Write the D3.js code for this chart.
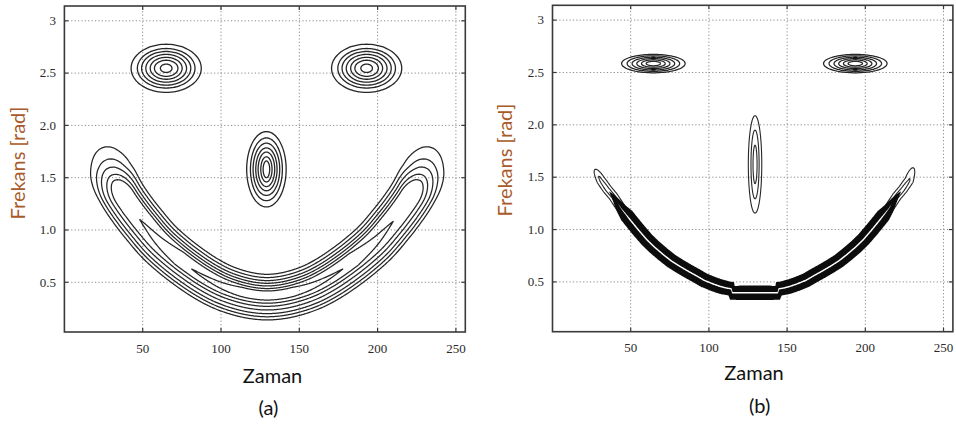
<!DOCTYPE html>
<html><head><meta charset="utf-8">
<script src="https://cdn.jsdelivr.net/npm/d3@7/dist/d3.min.js"></script>
<style>html,body{margin:0;padding:0;background:#fff;}svg{display:block;}</style>
</head><body>
<svg id="chart" width="956" height="425"></svg>
<script>
// ---------------- data ----------------
const xTickValues = [50, 100, 150, 200, 250];
const xTickLabels = ["50", "100", "150", "200", "250"];
const yTickValues = [0.5, 1.0, 1.5, 2.0, 2.5, 3];
const yTickLabels = ["0.5", "1.0", "1.5", "2.0", "2.5", "3"];
const timeDomain = [0, 256];
const freqDomain = [0.0245, 3.1416];
const panelNames = ["(a)", "(b)"];
const xTitle = "Zaman";
const yTitle = "Frekans [rad]";

// panel (a): contour rings
const eyeCentersA = [[65, 2.546], [193, 2.546]];
const eyeRingHalfTimeA = [22.4, 18.4, 15.7, 13.0, 10.2, 7.5, 3.7];
const eyeRingHalfFreqA = [0.230, 0.189, 0.161, 0.133, 0.105, 0.077, 0.040];
const noseCenterA = [129, 1.58];
const noseRingHalfTimeA = [12.6, 10.2, 8.5, 6.8, 5.3, 3.6, 2.1];
const noseRingHalfFreqA = [0.36, 0.30, 0.25, 0.205, 0.165, 0.12, 0.08];
const smileRidgeA = [[26,1.80],[27,1.72],[28.5,1.63],[30.5,1.53],[33.5,1.43],[38,1.31],[44,1.18],[50,1.065],[60,0.89],[70,0.755],[80,0.64],[90,0.54],[100,0.46],[110,0.405],[120,0.37],[129.5,0.358],[139,0.37],[149,0.405],[159,0.46],[169,0.54],[179,0.64],[189,0.755],[199,0.89],[209,1.065],[215,1.18],[221,1.31],[225.5,1.43],[228.5,1.53],[230.5,1.63],[232,1.72],[233,1.80]];
const smileLoopTopA = [0.218, 0.187, 0.158, 0.132, 0.107, 0.082, 0.059];
const smileLoopBottomA = [0.218, 0.188, 0.158, 0.123, 0.088, 0.058, 0.028];
const smileLoopStartA = [26, 27.6, 29, 30.5, 32, 48, 81];
const smileLoopEndA = [233, 231.4, 230, 228.5, 227, 210, 178];

// panel (b): contour rings
const eyeCentersB = [[64.5, 2.585], [193.6, 2.585]];
const eyeRingHalfTimeB = [20.3, 16.8, 13.6, 10.6, 7.6, 4.6];
const eyeRingHalfFreqB = [0.088, 0.074, 0.061, 0.048, 0.035, 0.021];
const noseCenterB = [129.5, 1.622];
const noseRingHalfTimeB = [4.3, 2.6, 1.3];
const noseRingHalfFreqB = [0.465, 0.328, 0.183];
const smileRidgeB = [[27.2,1.575],[31,1.47],[35,1.385],[38.9,1.316],[44,1.2],[49.6,1.094],[55,0.995],[60.2,0.905],[65,0.835],[70.9,0.76],[76,0.70],[81.5,0.648],[87,0.60],[92.2,0.557],[97,0.515],[102.8,0.48],[107,0.458],[111,0.442],[114.3,0.434],[115,0.396],[129.5,0.396],[144,0.396],[144.7,0.434],[148,0.442],[152,0.458],[156.2,0.48],[162,0.515],[166.8,0.557],[172,0.60],[177.5,0.648],[183,0.70],[188.1,0.76],[194,0.835],[198.8,0.905],[204,0.995],[209.4,1.094],[215,1.2],[220.1,1.316],[224,1.385],[228,1.47],[230.8,1.595]];
const smileBandHalfB = [0.069, 0.007];      // solid band, white centre line
const smileTipHalfB = [0.043, 0.018];       // outline rings at the tips
const smileTipStartB = [27.2, 29.5];
const smileTipEndB = [230.8, 228.5];
const smileBandStartB = 36, smileBandEndB = 223;

// ---------------- drawing ----------------
const svg = d3.select("#chart");
const INK = "#262626";

const panels = [
  { x0: 64.4, x1: 465.3, yb: 332, yt: 6, name: panelNames[0],
    title: {zx: 272.5, zy: 382.7, px: 268.5, py: 415, fx: 24.5, fy: 163} },
  { x0: 552.5, x1: 952.9, yb: 331.7, yt: 5.3, name: panelNames[1],
    title: {zx: 754, zy: 380, px: 759.7, py: 413, fx: 511.5, fy: 160} }
];

function makeScales(p) {
  return {
    xs: d3.scaleLinear().domain(timeDomain).range([p.x0, p.x1]),
    ys: d3.scaleLinear().domain(freqDomain).range([p.yb, p.yt])
  };
}

function drawGrid(g, xs, ys, p) {
  const gg = g.append("g").attr("stroke", "#8a8a8a").attr("stroke-width", 1)
    .attr("stroke-dasharray", "1.2,2.2").attr("fill", "none");
  xTickValues.forEach(v => gg.append("line").attr("x1", xs(v)).attr("x2", xs(v)).attr("y1", p.yb).attr("y2", p.yt));
  yTickValues.forEach(v => gg.append("line").attr("x1", p.x0).attr("x2", p.x1).attr("y1", ys(v)).attr("y2", ys(v)));
}

function drawFrame(g, xs, ys, p) {
  const fr = g.append("g").attr("stroke", "#3a3a3a").attr("fill", "none");
  fr.append("rect").attr("x", p.x0).attr("y", p.yt).attr("width", p.x1 - p.x0).attr("height", p.yb - p.yt)
    .attr("stroke-width", 1.6);
  xTickValues.forEach(v => {
    fr.append("line").attr("x1", xs(v)).attr("x2", xs(v)).attr("y1", p.yb).attr("y2", p.yb - 4).attr("stroke-width", 1.2);
    fr.append("line").attr("x1", xs(v)).attr("x2", xs(v)).attr("y1", p.yt).attr("y2", p.yt + 4).attr("stroke-width", 1.2);
  });
  yTickValues.forEach(v => {
    fr.append("line").attr("x1", p.x0).attr("x2", p.x0 + 4).attr("y1", ys(v)).attr("y2", ys(v)).attr("stroke-width", 1.2);
    fr.append("line").attr("x1", p.x1).attr("x2", p.x1 - 4).attr("y1", ys(v)).attr("y2", ys(v)).attr("stroke-width", 1.2);
  });
  const tl = g.append("g").attr("font-family", "'Liberation Serif','Times New Roman',serif")
    .attr("font-size", 13).attr("fill", "#2a2a2a");
  xTickValues.forEach((v, i) => tl.append("text").attr("x", xs(v)).attr("y", p.yb + 20.5)
    .attr("text-anchor", "middle").text(xTickLabels[i]));
  yTickValues.forEach((v, i) => tl.append("text").attr("x", p.x0 - 8.5).attr("y", ys(v) + 4.3)
    .attr("text-anchor", "end").text(yTickLabels[i]));
  const tt = g.append("g").attr("font-family", "Lato, Carlito, 'Open Sans', sans-serif").attr("font-size", 20);
  tt.append("text").attr("x", p.title.zx).attr("y", p.title.zy).attr("text-anchor", "middle").attr("fill", "#111").text(xTitle);
  tt.append("text").attr("x", p.title.px).attr("y", p.title.py).attr("text-anchor", "middle").attr("fill", "#111").text(p.name);
  tt.append("text").attr("transform", `translate(${p.title.fx},${p.title.fy}) rotate(-90)`)
    .attr("text-anchor", "middle").attr("fill", "#a85a2a").text(yTitle);
}

function ellipsePath(xs, ys, c, hw, hf) {
  const pts = d3.range(0, 96).map(i => {
    const a = i / 96 * 2 * Math.PI;
    return [xs(c[0] + hw * Math.cos(a)), ys(c[1] + hf * Math.sin(a))];
  });
  return d3.line().curve(d3.curveCardinalClosed)(pts);
}

function sampleRidge(points, xs, ys, curve, nb) {
  const d = d3.line().x(q => xs(q[0])).y(q => ys(q[1])).curve(curve)(points);
  const tmp = svg.append("path").attr("d", d).attr("fill", "none");
  const node = tmp.node(), L = node.getTotalLength();
  const pts = [];
  for (let s = 0; s <= L; s += 0.6) { const q = node.getPointAtLength(s); pts.push({x: q.x, y: q.y, s}); }
  tmp.remove();
  for (let i = 0; i < pts.length; i++) {
    const a = pts[Math.max(0, i - nb)], b = pts[Math.min(pts.length - 1, i + nb)];
    const dx = b.x - a.x, dy = b.y - a.y, n = Math.hypot(dx, dy) || 1;
    pts[i].nx = dy / n; pts[i].ny = -dx / n;
  }
  return pts;
}

// closed contour loop around a ridge: offsets above / below, tapered ends
function loopPath(pts, xs, t0, t1, upPx, dnPx, R, pointed) {
  const xa = xs(t0), xb = xs(t1);
  const seg = pts.filter(q => q.x >= xa && q.x <= xb);
  const sA = seg[0].s, sB = seg[seg.length - 1].s;
  const up = [], dn = [];
  seg.forEach(q => {
    const d = Math.min(q.s - sA, sB - q.s);
    let k = 1;
    if (d < R) { const u = d / R; k = pointed ? Math.pow(u, 0.85) : Math.sqrt(Math.max(0, 1 - (1 - u) * (1 - u))); }
    up.push([q.x + q.nx * upPx * k, q.y + q.ny * upPx * k]);
    dn.push([q.x - q.nx * dnPx * k, q.y - q.ny * dnPx * k]);
  });
  const ring = up.concat(dn.reverse());
  return d3.line()(ring) + "Z";
}

panels.forEach((p, idx) => {
  const {xs, ys} = makeScales(p);
  const g = svg.append("g");
  drawGrid(g, xs, ys, p);
  const pxPerF = ys(0) - ys(1);
  const c = g.append("g").attr("fill", "none").attr("stroke", INK).attr("stroke-linejoin", "round");

  if (idx === 0) {
    eyeCentersA.forEach(ec => eyeRingHalfTimeA.forEach((hw, i) =>
      c.append("path").attr("d", ellipsePath(xs, ys, ec, hw, eyeRingHalfFreqA[i])).attr("stroke-width", 1.3)));
    noseRingHalfTimeA.forEach((hw, i) =>
      c.append("path").attr("d", ellipsePath(xs, ys, noseCenterA, hw, noseRingHalfFreqA[i])).attr("stroke-width", 1.3));
    const ridge = sampleRidge(smileRidgeA, xs, ys, d3.curveCatmullRom.alpha(0.5), 3);
    smileLoopTopA.forEach((tf, i) => {
      const upPx = tf * pxPerF, dnPx = smileLoopBottomA[i] * pxPerF;
      const pointed = smileLoopStartA[i] > 40;
      const R = pointed ? 55 : 1.75 * Math.max(upPx, dnPx);
      c.append("path").attr("d", loopPath(ridge, xs, smileLoopStartA[i], smileLoopEndA[i], upPx, dnPx, R, pointed))
        .attr("stroke-width", 1.25);
    });
  } else {
    eyeCentersB.forEach(ec => {
      eyeRingHalfTimeB.forEach((hw, i) =>
        c.append("path").attr("d", ellipsePath(xs, ys, ec, hw, eyeRingHalfFreqB[i])).attr("stroke-width", 1.25));
      const hTop = (eyeRingHalfFreqB[2] + eyeRingHalfFreqB[3]) / 2;
      [1, -1].forEach(sg => g.append("ellipse").attr("cx", xs(ec[0])).attr("cy", ys(ec[1] + sg * hTop))
        .attr("rx", 2.4).attr("ry", 1.5).attr("fill", "#111"));
    });
    noseRingHalfTimeB.forEach((hw, i) =>
      c.append("path").attr("d", ellipsePath(xs, ys, noseCenterB, hw, noseRingHalfFreqB[i])).attr("stroke-width", 1.1));
    const ridge = sampleRidge(smileRidgeB, xs, ys, d3.curveLinear, 14);
    smileTipHalfB.forEach((h, i) => {
      c.append("path").attr("d", loopPath(ridge, xs, smileTipStartB[i], smileTipEndB[i], h * pxPerF, h * pxPerF, 18, false))
        .attr("stroke-width", 1.1);
    });
    g.append("path").attr("d", loopPath(ridge, xs, smileBandStartB, smileBandEndB,
      smileBandHalfB[0] * pxPerF, smileBandHalfB[0] * pxPerF, 30, true)).attr("fill", "#0c0c0c");
    g.append("path").attr("d", loopPath(ridge, xs, smileBandStartB + 6, smileBandEndB - 6,
      smileBandHalfB[1] * pxPerF, smileBandHalfB[1] * pxPerF, 20, true)).attr("fill", "#fff");
  }
  drawFrame(g, xs, ys, p);
});
</script>
</body></html>
